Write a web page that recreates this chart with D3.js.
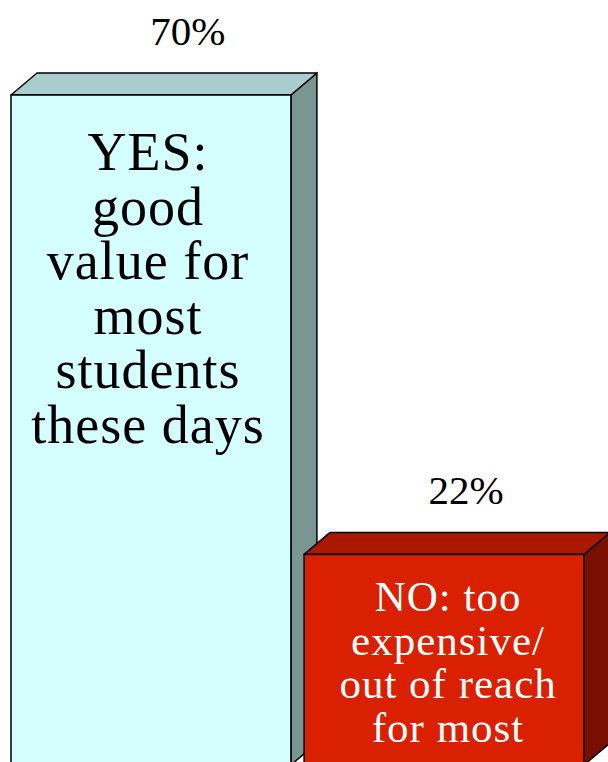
<!DOCTYPE html>
<html>
<head>
<meta charset="utf-8">
<script src="https://cdn.jsdelivr.net/npm/d3@7"></script>
<style>
html,body{margin:0;padding:0;background:#fff;overflow:hidden;}
svg{display:block;}
text{font-family:"Liberation Serif","Times New Roman",serif;}
</style>
</head>
<body>
<script>
// ---- data ----
const categories = ["YES", "NO"];
const values = [70, 22];
const valueLabels = ["70%", "22%"];
const barTexts = [
  ["YES:", "good", "value for", "most", "students", "these days"],
  ["NO: too", "expensive/", "out of reach", "for most"]
];

// ---- styles ----
const W = 608, H = 762;
const depthX = 26, depthY = 22;
const palette = [
  {front: "#d4feff", top: "#a9cccc", side: "#7a9693", text: "#000000", size: 54, ls: 1, lh: 54.6, first: 75, lx: 37, tx: -3},
  {front: "#d92000", top: "#aa1800", side: "#7a0e00", text: "#ffffff", size: 43, ls: 1, lh: 43.5, first: 57, lx: 22, tx: 4}
];

const svg = d3.select("body").append("svg").attr("width", W).attr("height", H);

const x = d3.scaleBand().domain(categories).range([11, 584]).paddingInner(0.045).paddingOuter(0);
const y = d3.scaleLinear().domain([0, 70]).range([765, 95]);

const g = svg.selectAll("g.bar").data(categories).enter().append("g").attr("class", "bar");

g.each(function(c, i) {
  const sel = d3.select(this);
  const x0 = x(c), x1 = x(c) + x.bandwidth();
  const yt = y(values[i]), yb = y(0);
  const p = palette[i];
  // side face
  sel.append("path")
    .attr("d", `M${x1},${yt} L${x1 + depthX},${yt - depthY} L${x1 + depthX},${yb - depthY} L${x1},${yb} Z`)
    .attr("fill", p.side).attr("stroke", "#000").attr("stroke-width", 1.5);
  // top face
  sel.append("path")
    .attr("d", `M${x0},${yt} L${x0 + depthX},${yt - depthY} L${x1 + depthX},${yt - depthY} L${x1},${yt} Z`)
    .attr("fill", p.top).attr("stroke", "#000").attr("stroke-width", 1.5).attr("stroke-linejoin", "round");
  // front face
  sel.append("rect")
    .attr("x", x0).attr("y", yt).attr("width", x1 - x0).attr("height", yb - yt)
    .attr("fill", p.front).attr("stroke", "#000").attr("stroke-width", 1.5);
  // text inside
  const cx = (x0 + x1) / 2;
  const t = sel.append("text")
    .attr("text-anchor", "middle")
    .attr("font-size", p.size)
    .attr("letter-spacing", p.ls)
    .attr("fill", p.text);
  barTexts[i].forEach((line, k) => {
    t.append("tspan").attr("x", cx + p.tx).attr("y", yt + p.first + k * p.lh).text(line);
  });
  // value label
  sel.append("text")
    .attr("x", cx + p.lx)
    .attr("y", yt - depthY - 28)
    .attr("text-anchor", "middle")
    .attr("font-size", 41)
    .attr("fill", "#000")
    .text(valueLabels[i]);
});
</script>
</body>
</html>
